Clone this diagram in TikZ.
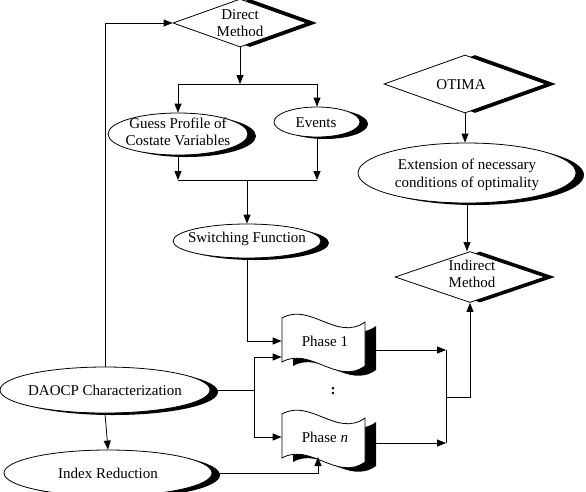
\documentclass[tikz,border=0pt]{standalone}
\usepackage{fontspec}
\setmainfont{Liberation Serif}
\usetikzlibrary{shapes.geometric,shadows,arrows.meta,calc}
\newcommand\tapeoutline{(-41.5,-23) .. controls (-13.5,-39) and (13.5,1) .. (41.5,-19) -- (41.5,25) .. controls (13.5,45) and (-13.5,5) .. (-41.5,21) -- cycle}
\begin{document}
\begin{tikzpicture}[x=1pt,y=-1pt,
  every node/.style={line width=0.8pt},
  shad/.style={drop shadow={shadow xshift=8pt,shadow yshift=-2pt,opacity=1,fill=black}},
  ell/.style={draw,ellipse,fill=white,inner sep=0pt,shad},
  dia/.style={draw,diamond,fill=white,inner sep=0pt,drop shadow={shadow xshift=10pt,shadow yshift=0pt,opacity=1,fill=black}},
  txt/.style={font=\fontsize{15}{17.5}\selectfont,align=center,inner sep=0pt},
  ln/.style={line width=0.8pt},
  arr/.style={ln,-{Triangle[length=9pt,width=7pt]}},
  tapebox/.style={inner sep=0pt,minimum width=83pt,minimum height=44pt}
]
\fill[white] (0,0) rectangle (586,491);
\clip (0,0) rectangle (586,491);

% shapes
\node[dia,minimum width=134pt,minimum height=48pt] (direct) at (240,23) {};
\node[ell,minimum width=140pt,minimum height=42pt] (guess) at (178,134) {};
\node[ell,minimum width=86pt,minimum height=30pt] (events) at (317,122) {};
\node[ell,minimum width=148pt,minimum height=34pt] (switch) at (247,241) {};
\node[dia,minimum width=162pt,minimum height=58pt] (otima) at (465,84) {};
\node[ell,minimum width=218pt,minimum height=60pt] (ext) at (467,173) {};
\node[dia,minimum width=150pt,minimum height=51pt] (indirect) at (470,277) {};
\node[ell,minimum width=210pt,minimum height=46pt] (daocp) at (105,390) {};
\node[ell,minimum width=208pt,minimum height=46pt] (index) at (108,473) {};

% tapes
\begin{scope}[shift={(323.5,341)}]
  \fill[black,shift={(11,4)}] \tapeoutline;
  \filldraw[fill=white,ln] \tapeoutline;
\end{scope}
\begin{scope}[shift={(323.5,437)}]
  \fill[black,shift={(11,4)}] \tapeoutline;
  \filldraw[fill=white,ln] \tapeoutline;
\end{scope}
\node[tapebox] (phase1) at (323.5,341) {};
\node[tapebox] (phasen) at (323.5,437) {};

% texts
\node[txt] (directT) at (240,23) {Direct\\Method};
\node[txt] (guessT) at (178,132) {Guess Profile of\\Costate Variables};
\node[txt] (eventsT) at (316,123) {Events};
\node[txt] (switchT) at (247,239) {Switching Function};
\node[txt] (otimaT) at (461,85) {OTIMA};
\node[txt] (extT) at (467,175) {Extension of necessary\\conditions of optimality};
\node[txt] (indirectT) at (472,274) {Indirect\\Method};
\node[txt] (daocpT) at (105,390) {DAOCP Characterization};
\node[txt] (indexT) at (108,473) {Index Reduction};
\node[txt] (p1T) at (325,341) {Phase 1};
\node[txt] (pnT) at (325,437) {Phase \textit{n}};
\node[txt] (dots) at (333,391) {\textbf{:}};

% coordinates
\coordinate (j1) at (240,84);
\coordinate (j2) at (247,180);
\coordinate (br) at (254,390);
\coordinate (pnb) at (318,457);
\coordinate (m1) at (446,350);
\coordinate (mn) at (446,443);
\coordinate (mm) at (446,397);

% connectors
\draw[arr] (daocp.north) |- (direct.west);
\draw[arr] (direct.south) -- (j1);
\draw[ln] (guess.north |- j1) -- (events.north |- j1);
\draw[arr] (guess.north |- j1) -- (guess.north);
\draw[arr] (events.north |- j1) -- (events.north);
\draw[arr] (guess.south) -- (guess.south |- j2);
\draw[arr] (events.south) -- (events.south |- j2);
\draw[ln] (guess.south |- j2) -- (events.south |- j2);
\draw[arr] (j2) -- (switch.north);
\draw[arr] (switch.south) |- (phase1.west);
\draw[ln] ($(daocp.east)+(6,0)$) -- (br);
\draw[arr] (br) |- ($(phase1.west)+(0,16)$);
\draw[arr] (br) |- (phasen.west);
\draw[arr] (daocp.south) -- (index.north);
\draw[arr] ($(index.east)+(8,0)$) -| (pnb);
\draw[arr] ($(phase1.east)+(11,9)$) -- (m1);
\draw[arr] ($(phasen.east)+(11,6)$) -- (mn);
\draw[ln] (m1) -- (mn);
\draw[arr] (mm) -| (indirect.south);
\draw[arr] (otima.south) -- (otima.south |- ext.north);
\draw[arr] (ext.south) -- (ext.south |- indirect.north);
\end{tikzpicture}
\end{document}
